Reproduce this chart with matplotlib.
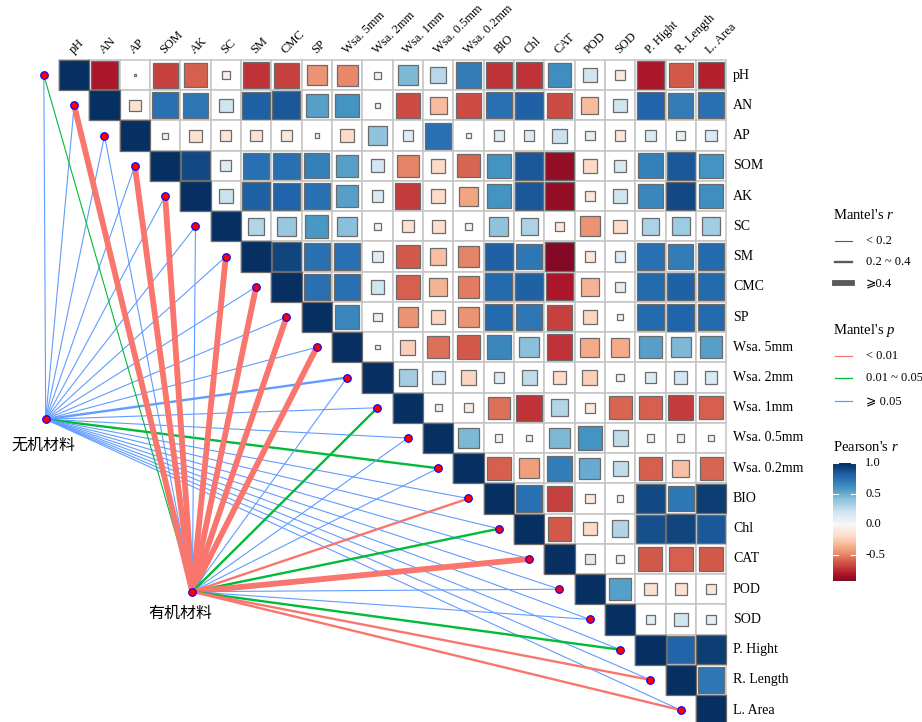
import numpy as np
import matplotlib.pyplot as plt
from matplotlib.patches import Rectangle
from matplotlib.lines import Line2D
from matplotlib.colors import Normalize

plt.rcParams['font.family'] = ['Liberation Serif', 'DejaVu Sans']
plt.rcParams['mathtext.fontset'] = 'custom'
plt.rcParams['mathtext.rm'] = 'Liberation Serif'
plt.rcParams['mathtext.it'] = 'Liberation Serif:italic'

## Data
variables = ['pH', 'AN', 'AP', 'SOM', 'AK', 'SC', 'SM', 'CMC', 'SP',
             'Wsa. 5mm', 'Wsa. 2mm', 'Wsa. 1mm', 'Wsa. 0.5mm', 'Wsa. 0.2mm',
             'BIO', 'Chl', 'CAT', 'POD', 'SOD', 'P. Hight', 'R. Length', 'L. Area']

# Pearson's r, upper triangle, row i holds columns i+1 .. 21
corr_upper = [
    [-0.82, -0.005, -0.68, -0.6, -0.06, -0.72, -0.68, -0.45, -0.48, -0.05, 0.45, 0.28, 0.7, -0.72, -0.72, 0.62, 0.2, -0.1, -0.82, -0.62, -0.78],
    [-0.15, 0.75, 0.72, 0.2, 0.82, 0.85, 0.55, 0.6, -0.03, -0.65, -0.32, -0.65, 0.75, 0.82, -0.65, -0.32, 0.2, 0.8, 0.7, 0.75],
    [0.04, -0.16, -0.14, -0.14, -0.12, 0.02, -0.2, 0.4, 0.12, 0.75, 0.02, 0.12, 0.12, 0.22, 0.1, -0.12, 0.15, 0.08, 0.15],
    [0.9, 0.14, 0.75, 0.75, 0.68, 0.55, 0.18, -0.5, -0.2, -0.58, 0.6, 0.85, -0.88, -0.2, 0.16, 0.68, 0.85, 0.6],
    [0.22, 0.82, 0.8, 0.75, 0.55, 0.15, -0.7, -0.2, -0.4, 0.6, 0.85, -0.88, -0.12, 0.2, 0.65, 0.9, 0.62],
    [0.3, 0.38, 0.58, 0.42, -0.06, -0.16, -0.18, -0.05, 0.4, 0.32, -0.1, -0.45, -0.2, 0.32, 0.36, 0.35],
    [0.92, 0.75, 0.75, 0.12, -0.62, -0.3, -0.5, 0.82, 0.72, -0.92, -0.12, 0.12, 0.75, 0.7, 0.78],
    [0.75, 0.75, 0.2, -0.6, -0.35, -0.52, 0.78, 0.82, -0.82, -0.35, 0.1, 0.78, 0.82, 0.78],
    [0.65, 0.08, -0.45, -0.22, -0.45, 0.78, 0.72, -0.68, -0.22, 0.04, 0.78, 0.8, 0.78],
    [0.02, -0.25, -0.55, -0.62, 0.65, 0.42, -0.72, -0.38, -0.38, 0.55, 0.45, 0.55],
    [0.35, 0.18, -0.22, 0.12, 0.25, -0.2, -0.25, -0.06, 0.14, 0.18, 0.16],
    [-0.05, -0.08, -0.55, -0.72, 0.3, -0.12, -0.58, -0.6, -0.7, -0.6],
    [0.45, -0.06, -0.03, 0.45, 0.6, 0.25, -0.06, -0.06, -0.05],
    [-0.6, -0.42, 0.7, 0.5, 0.25, -0.6, -0.3, -0.58],
    [0.75, -0.68, -0.1, 0.05, 0.9, 0.72, 0.95],
    [-0.62, -0.2, 0.3, 0.88, 0.92, 0.85],
    [0.12, -0.06, -0.62, -0.6, -0.62],
    [0.55, -0.16, -0.16, -0.12],
    [0.1, 0.2, 0.1],
    [0.8, 0.95],
    [0.72],
]

groups = ['无机材料', '有机材料']
mantel_r_inorg = [0.08, 0.1, 0.06, 0.12, 0.11, 0.07, 0.13, 0.12, 0.1, 0.09, 0.26, 0.11,
                  0.08, 0.24, 0.1, 0.12, 0.09, 0.07, 0.08, 0.11, 0.1, 0.12]
mantel_p_inorg = [0.35, 0.3, 0.6, 0.25, 0.28, 0.5, 0.22, 0.26, 0.31, 0.4, 0.08, 0.3,
                  0.45, 0.03, 0.33, 0.27, 0.38, 0.52, 0.47, 0.29, 0.34, 0.26]
mantel_r_org = [0.15, 0.55, 0.08, 0.5, 0.48, 0.1, 0.52, 0.5, 0.45, 0.47, 0.12, 0.28,
                0.09, 0.14, 0.32, 0.3, 0.46, 0.11, 0.13, 0.29, 0.31, 0.33]
mantel_p_org = [0.04, 0.001, 0.4, 0.001, 0.002, 0.3, 0.001, 0.001, 0.003, 0.002, 0.2, 0.02,
                0.5, 0.1, 0.008, 0.03, 0.001, 0.3, 0.2, 0.02, 0.006, 0.005]

cbar_ticks = [1.0, 0.5, 0.0, -0.5]

## Layout helpers (pixel -> data)
W, H = 922, 722
x0, cw = 59.0, 30.33
y0, ch = 60.0, 30.24

def fx(px):
    return (px - x0) / cw - 0.5

def fy(py):
    return (py - y0) / ch - 0.5

cmap = plt.get_cmap('RdBu')
norm = Normalize(-1, 1)
red, green, blue = '#F8766D', '#00BA38', '#619CFF'

def p_color(p):
    if p < 0.01:
        return red
    elif p < 0.05:
        return green
    return blue

def r_width(r):
    if r < 0.2:
        return 0.8
    elif r < 0.4:
        return 1.7
    return 4.2

fig = plt.figure(figsize=(W / 100, H / 100), dpi=100)
ax = fig.add_axes([0, 0, 1, 1])
ax.set_xlim(fx(0), fx(W))
ax.set_ylim(fy(H), fy(0))
ax.axis('off')

n = len(variables)

# grid + squares
for i in range(n):
    for j in range(i, n):
        ax.add_patch(Rectangle((j - 0.5, i - 0.5), 1, 1, facecolor='white',
                               edgecolor='#c4c4c4', lw=1.1, zorder=1))
for i in range(n):
    for j in range(i, n):
        r = 1.0 if i == j else corr_upper[i][j - i - 1]
        s = np.sqrt(abs(r))
        ax.add_patch(Rectangle((j - s / 2, i - s / 2), s, s, facecolor=cmap(norm(r)),
                               edgecolor='#6b6b6b', lw=0.9, zorder=2))

# labels
for k, name in enumerate(variables):
    ax.text(21.72, k, name, ha='left', va='center', fontsize=10)
    ax.text(k + 0.05, fy(56), name, ha='left', va='bottom', fontsize=9,
            rotation=45, rotation_mode='anchor')

# mantel links
nodes = [(fx(45.7), fy(419.3)), (fx(192.3), fy(591.7))]
mantel_r = [mantel_r_inorg, mantel_r_org]
mantel_p = [mantel_p_inorg, mantel_p_org]
for g in range(2):
    gx, gy = nodes[g]
    for k in range(n):
        ax.plot([gx, k - 1], [gy, k], color=p_color(mantel_p[g][k]),
                lw=r_width(mantel_r[g][k]), solid_capstyle='butt', zorder=3)

ax.scatter([k - 1 for k in range(n)], list(range(n)), s=30, facecolor='red',
           edgecolor='blue', lw=0.8, zorder=4)
ax.scatter([p[0] for p in nodes], [p[1] for p in nodes], s=30, facecolor='red',
           edgecolor='blue', lw=0.8, zorder=4)
ax.text(fx(43), fy(445), groups[0], ha='center', va='center', fontsize=11.5,
        family=['Noto Sans CJK SC'])
ax.text(fx(180), fy(613), groups[1], ha='center', va='center', fontsize=11.5,
        family=['Noto Sans CJK SC'])

## Legends
def legend_line(py, lw, color):
    fig.add_artist(Line2D([835 / W, 852 / W], [1 - py / H, 1 - py / H], color=color,
                          lw=lw, transform=fig.transFigure))

fig.text(833 / W, 1 - 215 / H, "Mantel's $r$", fontsize=10.5, va='center')
r_labels = ['< 0.2', '0.2 ~ 0.4', '⩾0.4']
for py, lw, lab in zip([241, 262, 283], [0.8, 1.7, 4.2], r_labels):
    legend_line(py, lw, '#5a5a5a')
    fig.text(866 / W, 1 - py / H, lab, fontsize=9, va='center')

fig.text(833 / W, 1 - 330 / H, "Mantel's $p$", fontsize=10.5, va='center')
p_labels = ['< 0.01', '0.01 ~ 0.05', '⩾ 0.05']
for py, col, lab in zip([356, 378, 401], [red, green, blue], p_labels):
    legend_line(py, 0.9, col)
    fig.text(866 / W, 1 - py / H, lab, fontsize=9, va='center')

fig.text(833 / W, 1 - 447 / H, "Pearson's $r$", fontsize=10.5, va='center')
cax = fig.add_axes([833 / W, 1 - 581 / H, 23 / W, 118 / H])
vmin, vmax = -0.92, 1.0
cax.imshow(np.linspace(vmax, vmin, 256)[:, None], aspect='auto', cmap=cmap, norm=norm,
           extent=[0, 1, vmin, vmax])
cax.set_xlim(0, 1)
cax.set_ylim(vmin, vmax)
cax.axis('off')
for v in cbar_ticks:
    cax.plot([0, 0.2], [v, v], color='white', lw=0.8)
    cax.plot([0.8, 1], [v, v], color='white', lw=0.8)
    cax.text(1.4, v, '%.1f' % v, fontsize=9, va='center', ha='left')

plt.savefig('out.png', dpi=100)
